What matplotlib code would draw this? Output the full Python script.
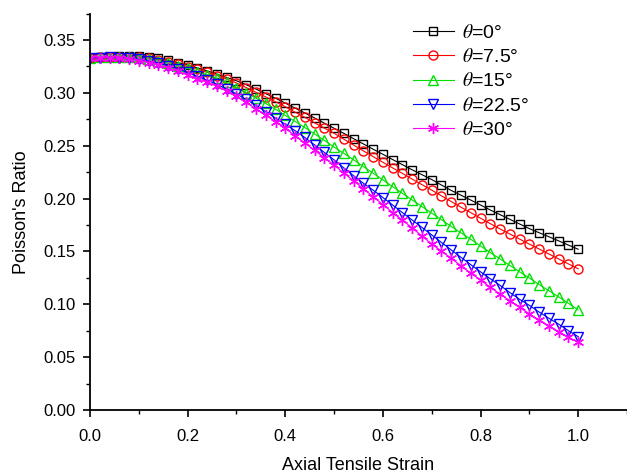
import matplotlib
matplotlib.use("Agg")
import matplotlib.pyplot as plt
import numpy as np
from matplotlib.ticker import MultipleLocator

plt.rcParams['font.family'] = ['Liberation Sans', 'DejaVu Sans']
plt.rcParams['mathtext.fontset'] = 'stix'

strain = [0.00, 0.02, 0.04, 0.06, 0.08, 0.10, 0.12, 0.14, 0.16, 0.18,
          0.20, 0.22, 0.24, 0.26, 0.28, 0.30, 0.32, 0.34, 0.36, 0.38,
          0.40, 0.42, 0.44, 0.46, 0.48, 0.50, 0.52, 0.54, 0.56, 0.58,
          0.60, 0.62, 0.64, 0.66, 0.68, 0.70, 0.72, 0.74, 0.76, 0.78,
          0.80, 0.82, 0.84, 0.86, 0.88, 0.90, 0.92, 0.94, 0.96, 0.98, 1.00]

nu_0 = [0.3330, 0.3338, 0.3344, 0.3348, 0.3350, 0.3350, 0.3340, 0.3326, 0.3308, 0.3287,
        0.3264, 0.3237, 0.3208, 0.3177, 0.3146, 0.3115, 0.3077, 0.3036, 0.2993, 0.2949,
        0.2903, 0.2856, 0.2810, 0.2763, 0.2714, 0.2665, 0.2617, 0.2567, 0.2517, 0.2467,
        0.2419, 0.2369, 0.2321, 0.2272, 0.2226, 0.2180, 0.2128, 0.2077, 0.2032, 0.1986,
        0.1939, 0.1892, 0.1848, 0.1804, 0.1760, 0.1716, 0.1677, 0.1639, 0.1600, 0.1560, 0.1521]

nu_7p5 = [0.3330, 0.3336, 0.3340, 0.3342, 0.3341, 0.3337, 0.3328, 0.3313, 0.3295, 0.3273,
          0.3249, 0.3224, 0.3195, 0.3164, 0.3131, 0.3094, 0.3050, 0.3006, 0.2962, 0.2916,
          0.2869, 0.2818, 0.2769, 0.2717, 0.2667, 0.2618, 0.2562, 0.2506, 0.2451, 0.2397,
          0.2343, 0.2290, 0.2238, 0.2184, 0.2132, 0.2080, 0.2026, 0.1972, 0.1918, 0.1867,
          0.1814, 0.1763, 0.1713, 0.1665, 0.1617, 0.1569, 0.1523, 0.1476, 0.1429, 0.1382, 0.1336]

nu_15 = [0.3330, 0.3335, 0.3338, 0.3338, 0.3335, 0.3328, 0.3318, 0.3302, 0.3281, 0.3258,
         0.3232, 0.3202, 0.3170, 0.3137, 0.3099, 0.3050, 0.3000, 0.2950, 0.2900, 0.2845,
         0.2787, 0.2730, 0.2672, 0.2612, 0.2550, 0.2487, 0.2428, 0.2366, 0.2303, 0.2240,
         0.2177, 0.2113, 0.2050, 0.1987, 0.1924, 0.1862, 0.1800, 0.1736, 0.1676, 0.1615,
         0.1552, 0.1489, 0.1429, 0.1368, 0.1307, 0.1249, 0.1187, 0.1129, 0.1070, 0.1009, 0.0947]

nu_22p5 = [0.3330, 0.3334, 0.3335, 0.3333, 0.3327, 0.3316, 0.3302, 0.3283, 0.3258, 0.3228,
           0.3193, 0.3157, 0.3120, 0.3080, 0.3037, 0.2990, 0.2938, 0.2882, 0.2822, 0.2762,
           0.2703, 0.2643, 0.2578, 0.2508, 0.2437, 0.2366, 0.2290, 0.2216, 0.2145, 0.2080,
           0.2010, 0.1939, 0.1867, 0.1797, 0.1727, 0.1656, 0.1585, 0.1514, 0.1444, 0.1375,
           0.1307, 0.1242, 0.1179, 0.1111, 0.1047, 0.0990, 0.0927, 0.0868, 0.0812, 0.0750, 0.0694]

nu_30 = [0.3328, 0.3332, 0.3332, 0.3328, 0.3319, 0.3305, 0.3287, 0.3264, 0.3236, 0.3204,
         0.3170, 0.3136, 0.3100, 0.3063, 0.3020, 0.2970, 0.2910, 0.2848, 0.2789, 0.2728,
         0.2665, 0.2595, 0.2525, 0.2455, 0.2388, 0.2318, 0.2240, 0.2168, 0.2094, 0.2018,
         0.1943, 0.1868, 0.1797, 0.1722, 0.1646, 0.1571, 0.1502, 0.1435, 0.1363, 0.1294,
         0.1230, 0.1161, 0.1097, 0.1034, 0.0971, 0.0909, 0.0851, 0.0795, 0.0741, 0.0688, 0.0640]

labels = [r'$\it{\theta}$=0°', r'$\it{\theta}$=7.5°', r'$\it{\theta}$=15°',
          r'$\it{\theta}$=22.5°', r'$\it{\theta}$=30°']
series = [nu_0, nu_7p5, nu_15, nu_22p5, nu_30]
colors = ['black', '#FF0000', '#00E000', '#0000FF', '#FF00FF']
markers = ['s', 'o', '^', 'v', (6, 2, 0)]
msizes = [5.5, 6.5, 7.5, 7.5, 8]

fig = plt.figure(figsize=(6.27, 4.74), dpi=100)
ax = fig.add_axes([90 / 627, 1 - 410 / 474, 1 - 90 / 627, (410 - 13.6) / 474])

for y, lab, c, m, ms in zip(series, labels, colors, markers, msizes):
    ax.plot(strain, y, color=c, lw=0.8, marker=m, markersize=ms,
            markerfacecolor='none', markeredgecolor=c, markeredgewidth=1.0,
            label=lab)

ax.set_xlim(0, 1.1)
ax.set_ylim(0, 0.375)
ax.set_xticks([0.0, 0.2, 0.4, 0.6, 0.8, 1.0])
ax.set_yticks([0.00, 0.05, 0.10, 0.15, 0.20, 0.25, 0.30, 0.35])
ax.xaxis.set_minor_locator(MultipleLocator(0.1))
ax.yaxis.set_minor_locator(MultipleLocator(0.025))
ax.set_xticklabels(['0.0', '0.2', '0.4', '0.6', '0.8', '1.0'])
ax.set_yticklabels(['0.00', '0.05', '0.10', '0.15', '0.20', '0.25', '0.30', '0.35'])

for side in ['top', 'right']:
    ax.spines[side].set_visible(False)
for side in ['left', 'bottom']:
    ax.spines[side].set_linewidth(1.3)
ax.tick_params(which='major', direction='out', length=5, width=1.2, labelsize=12)
ax.tick_params(which='minor', direction='out', length=3, width=1.0)
ax.tick_params(axis='x', pad=9)
ax.tick_params(axis='y', pad=5)

ax.set_xlabel('Axial Tensile Strain', fontsize=13, labelpad=9)
ax.set_ylabel("Poisson's Ratio", fontsize=13, labelpad=10)

ax.legend(loc='upper left', bbox_to_anchor=(413 / 627, 1 - 24 / 474),
          bbox_transform=fig.transFigure, frameon=False, fontsize=14,
          numpoints=1, handlelength=2.1, handletextpad=0.4,
          labelspacing=0.32, borderpad=0, borderaxespad=0)

fig.savefig('out.png', dpi=100)
